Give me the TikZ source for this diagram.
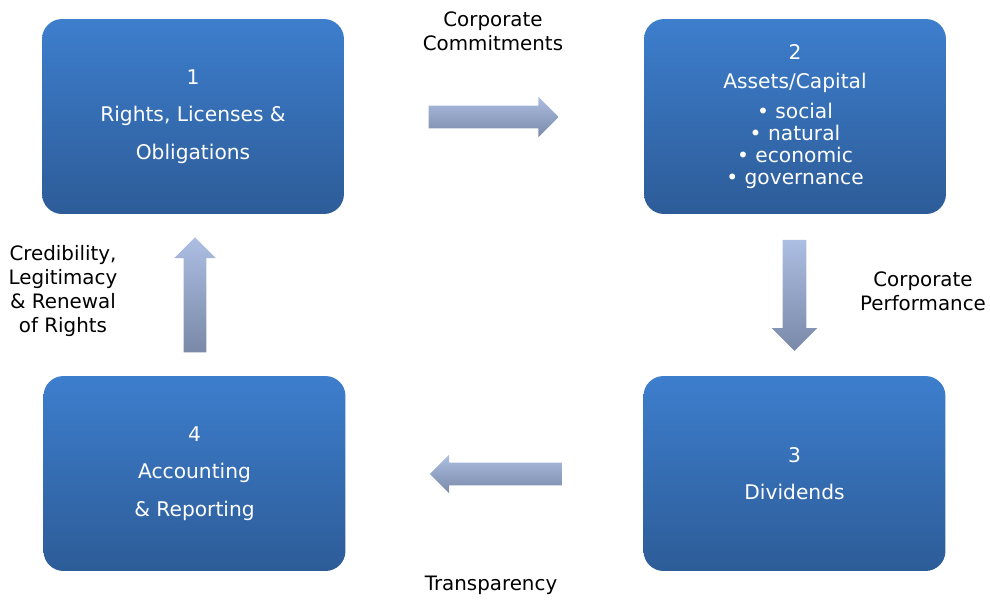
\documentclass[tikz,border=0pt]{standalone}
\usepackage{fontspec}
\setmainfont{DejaVu Sans}
\usetikzlibrary{shapes,arrows}
\definecolor{boxtop}{RGB}{61,126,205}
\definecolor{boxbot}{RGB}{45,92,152}
\definecolor{arrtop}{RGB}{172,190,226}
\definecolor{arrbot}{RGB}{122,137,168}

\begin{document}
\begin{tikzpicture}[x=0.02cm,y=-0.02cm]
  \tikzstyle{box} = [rectangle, rounded corners=0.4cm, top color=boxtop, bottom color=boxbot, text=white, align=center, minimum width=6.04cm, minimum height=3.9cm, font=\fontsize{11.5}{21.2}\selectfont]
  \tikzstyle{flow} = [single arrow, draw=none, inner xsep=0pt, inner ysep=0.22cm, minimum width=0pt, single arrow head extend=0.18cm, top color=arrtop, bottom color=arrbot]
  \tikzstyle{vflow} = [flow, inner xsep=0.22cm, inner ysep=0pt]
  \tikzstyle{flowtext} = [align=center, font=\fontsize{11.3}{13.6}\selectfont]
  \useasboundingbox (0,0) rectangle (990,599);
  % the four stages
  \node (rights) [box] at (193,116.5) {1\\Rights, Licenses \&\\Obligations};
  \node (assets) [box, font=\fontsize{11.5}{12.5}\selectfont] at (795,116.5)
    {2\\[4.5pt]Assets/Capital\\[4.5pt]• social\\• natural\\• economic\\• governance};
  \node (dividends) [box] at (794.5,473.5) {3\\Dividends};
  \node (reporting) [box] at (194.5,473.5) {4\\Accounting\\\& Reporting};
  % block arrows between the stages
  \node (commit) [flow, minimum height=2.6cm] at (488,117) {};
  \node (perform) [vflow, minimum height=2.22cm, inner xsep=0.23cm, single arrow head extend=0.22cm, shape border rotate=270] at (794.5,289.5) {};
  \node (transp) [flow, minimum height=2.64cm, single arrow head extend=0.16cm, shape border rotate=180] at (501.5,474) {};
  \node (renew) [vflow, minimum height=2.3cm, single arrow head extend=0.19cm, shape border rotate=90] at (195,300.5) {};
  % captions
  \node (commitlbl) [flowtext] at (493,31) {Corporate\\Commitments};
  \node (performlbl) [flowtext] at (923,291) {Corporate\\Performance};
  \node (transplbl) [flowtext] at (491,585) {Transparency};
  \node (renewlbl) [flowtext] at (63,291) {Credibility,\\Legitimacy\\\& Renewal\\of Rights};
\end{tikzpicture}
\end{document}
